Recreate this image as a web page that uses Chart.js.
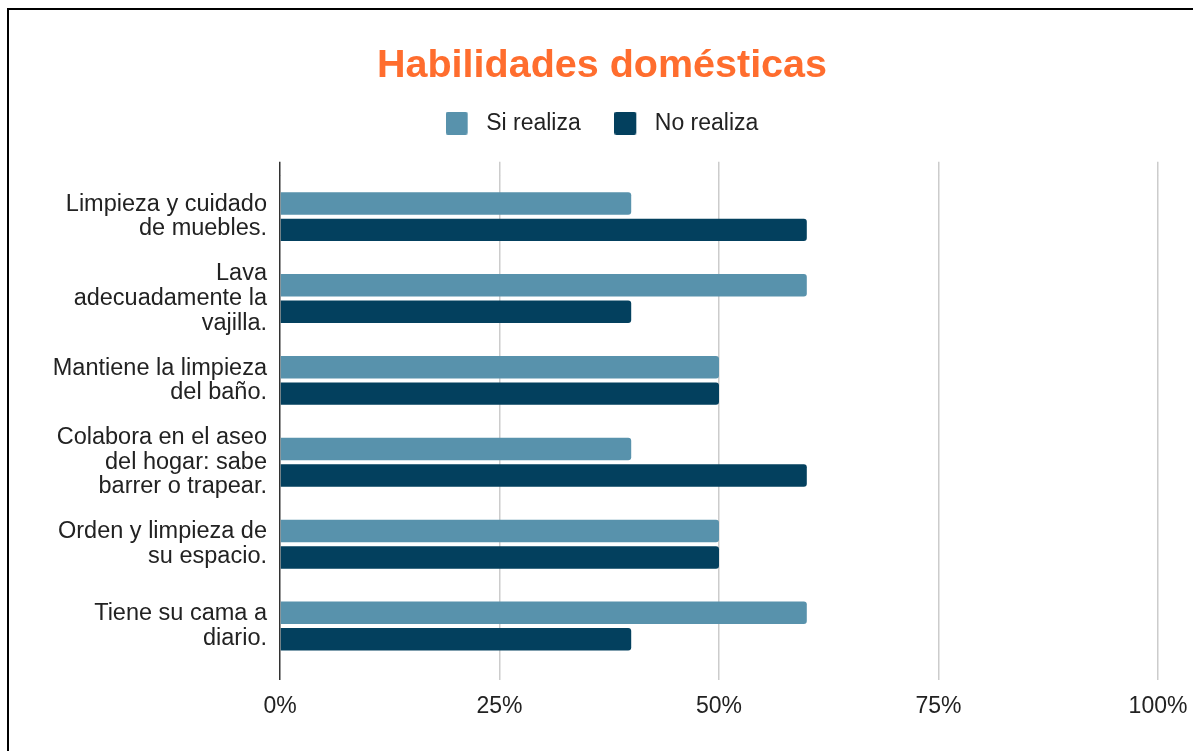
<!DOCTYPE html>
<html lang="es">
<head>
<meta charset="utf-8">
<title>Habilidades domésticas</title>
<script src="https://cdn.jsdelivr.net/npm/chart.js@4.4.1/dist/chart.umd.min.js"></script>
<style>
  html, body { margin: 0; padding: 0; background: #fff; overflow: hidden; }
  #wrap { position: relative; width: 1193px; height: 751px; }
  #frame {
    position: absolute; left: 7px; top: 8px; right: -10px; bottom: -10px;
    border-top: 2px solid #000; border-left: 2px solid #000;
    pointer-events: none;
  }
</style>
</head>
<body>
<div id="wrap">
  <canvas id="chart" width="1193" height="751"></canvas>
  <div id="frame"></div>
</div>
<script>
// Datos del gráfico
const categorias = [
  ['Limpieza y cuidado', 'de muebles.'],
  ['Lava', 'adecuadamente la', 'vajilla.'],
  ['Mantiene la limpieza', 'del baño.'],
  ['Colabora en el aseo', 'del hogar: sabe', 'barrer o trapear.'],
  ['Orden y limpieza de', 'su espacio.'],
  ['Tiene su cama a', 'diario.']
];
const siRealiza = [40, 60, 50, 40, 50, 60];
const noRealiza = [60, 40, 50, 60, 50, 40];
const ticksX = [0, 25, 50, 75, 100];

Chart.defaults.font.family = '"Liberation Sans", Arial, sans-serif';
Chart.defaults.color = '#222';

const ctx = document.getElementById('chart');

// Color de la rejilla: eje 0% oscuro, resto gris claro
const gridColor = (c) => (c.tick && c.tick.value === 0 ? '#333' : '#cccccc');

// Cuadro de la leyenda con un poco de aire a la derecha
function legendBox(color) {
  const c = document.createElement('canvas');
  c.width = 29;
  c.height = 23;
  const g = c.getContext('2d');
  g.fillStyle = color;
  g.beginPath();
  g.roundRect(0, 0, 22, 23, 2);
  g.fill();
  return c;
}

new Chart(ctx, {
  type: 'bar',
  data: {
    labels: categorias,
    datasets: [{
      label: 'Si realiza',
      data: siRealiza,
      backgroundColor: '#5892ac',
      borderRadius: 3,
      borderSkipped: 'start',
      categoryPercentage: 0.646,
      barPercentage: 0.85
    }, {
      label: 'No realiza',
      data: noRealiza,
      backgroundColor: '#03405e',
      borderRadius: 3,
      borderSkipped: 'start',
      categoryPercentage: 0.646,
      barPercentage: 0.85
    }]
  },
  options: {
    indexAxis: 'y',
    responsive: false,
    animation: false,
    layout: {
      padding: { top: 0, left: 46, right: 35, bottom: 0 }
    },
    plugins: {
      title: {
        display: true,
        text: 'Habilidades domésticas',
        color: '#ff6d2e',
        font: { size: 39.5, weight: 'bold', lineHeight: 0.6 },
        padding: { top: 54.5, bottom: 0 }
      },
      legend: {
        position: 'top',
        labels: {
          usePointStyle: true,
          pointStyleWidth: 29,
          boxHeight: 23,
          padding: 33.5,
          color: '#222',
          font: { size: 23 },
          generateLabels: (chart) => {
            const items = Chart.defaults.plugins.legend.labels.generateLabels(chart);
            items.forEach((it) => {
              it.pointStyle = legendBox(chart.data.datasets[it.datasetIndex].backgroundColor);
            });
            return items;
          }
        }
      },
      tooltip: { enabled: false }
    },
    scales: {
      x: {
        position: 'bottom',
        min: 0,
        max: 100,
        afterBuildTicks: (scale) => {
          scale.ticks = ticksX.map(v => ({ value: v }));
        },
        afterFit: (scale) => { scale.height = 84; },
        ticks: {
          callback: (v) => v + '%',
          font: { size: 23, lineHeight: 1.9 },
          color: '#222',
          padding: 5
        },
        grid: {
          color: gridColor,
          lineWidth: 1.5,
          tickLength: 13
        },
        border: { display: false }
      },
      x2: {
        position: 'top',
        min: 0,
        max: 100,
        afterBuildTicks: (scale) => {
          scale.ticks = ticksX.map(v => ({ value: v }));
        },
        afterFit: (scale) => { scale.height = 31; },
        ticks: { display: false },
        grid: {
          color: gridColor,
          lineWidth: 1.5,
          tickLength: 14,
          drawOnChartArea: false
        },
        border: { display: false }
      },
      y: {
        afterFit: (scale) => { scale.width = 234; },
        ticks: {
          font: { size: 23.5, lineHeight: 1.045 },
          color: '#222',
          padding: 13
        },
        grid: { display: false, drawTicks: false },
        border: { display: false }
      }
    }
  }
});
</script>
</body>
</html>
